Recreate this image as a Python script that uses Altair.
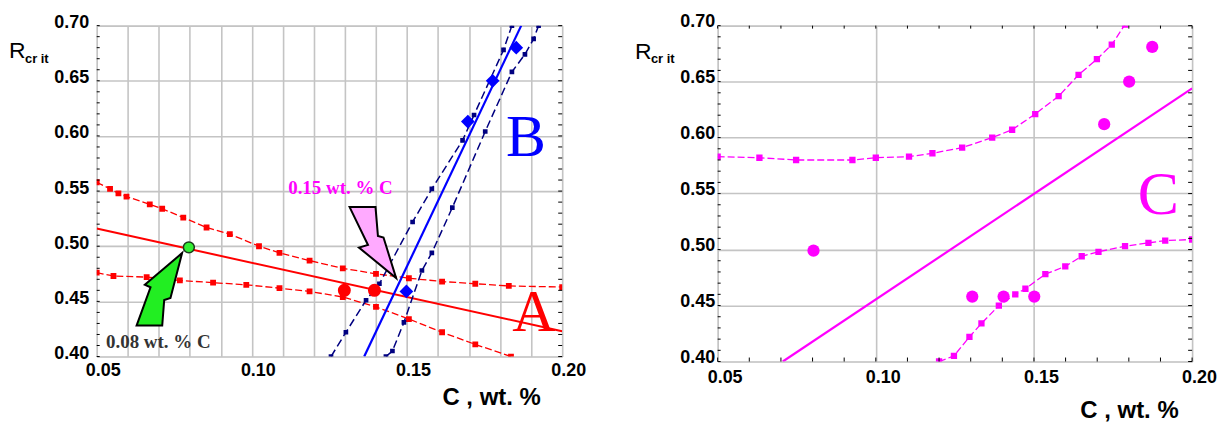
import altair as alt
import pandas as pd

X_DOMAIN = [0.05, 0.20]
Y_DOMAIN = [0.40, 0.70]

# ---------------- left panel data ----------------
red_fit_x = [0.050, 0.200]
red_fit_y = [0.516, 0.423]

red_up_x = [0.050, 0.0543, 0.057, 0.0596, 0.0671, 0.0711, 0.0779, 0.0854, 0.0929, 0.1023,
            0.1089, 0.1186, 0.1293, 0.140, 0.1506, 0.1613, 0.172, 0.1828, 0.200]
red_up_y = [0.558, 0.552, 0.548, 0.545, 0.538, 0.534, 0.526, 0.517, 0.511, 0.500,
            0.494, 0.487, 0.480, 0.475, 0.471, 0.468, 0.466, 0.464, 0.463]

red_lo_x = [0.050, 0.0554, 0.0661, 0.0768, 0.0875, 0.0982, 0.1089, 0.1186, 0.1293, 0.140,
            0.1506, 0.1613, 0.172, 0.1835]
red_lo_y = [0.476, 0.473, 0.472, 0.469, 0.467, 0.465, 0.462, 0.459, 0.454, 0.445,
            0.434, 0.422, 0.411, 0.400]

blue_fit_x = [0.1362, 0.1868]
blue_fit_y = [0.400, 0.700]

blue_l_x = [0.1255, 0.1303, 0.1368, 0.1411, 0.1518, 0.158, 0.1679, 0.1716, 0.1811, 0.1838]
blue_l_y = [0.400, 0.422, 0.451, 0.466, 0.522, 0.552, 0.596, 0.619, 0.678, 0.700]

blue_r_x = [0.1432, 0.1453, 0.149, 0.1548, 0.158, 0.1646, 0.1752, 0.1838, 0.188, 0.1908, 0.1924]
blue_r_y = [0.400, 0.405, 0.431, 0.478, 0.494, 0.535, 0.604, 0.658, 0.674, 0.688, 0.700]

red_pts_x = [0.1298, 0.1395]
red_pts_y = [0.460, 0.460]
blue_pts_x = [0.1498, 0.1696, 0.1776, 0.1852]
blue_pts_y = [0.459, 0.613, 0.650, 0.680]
green_pt_x = [0.0797]
green_pt_y = [0.499]

# ---------------- right panel data ----------------
mag_fit_x = [0.0706, 0.200]
mag_fit_y = [0.400, 0.644]

mag_up_x = [0.050, 0.0632, 0.0748, 0.0926, 0.100, 0.1105, 0.1179, 0.1273, 0.1368, 0.1431,
            0.1504, 0.1578, 0.1641, 0.1699, 0.1746, 0.1788]
mag_up_y = [0.583, 0.582, 0.580, 0.580, 0.582, 0.583, 0.586, 0.591, 0.600, 0.607,
            0.621, 0.637, 0.656, 0.670, 0.683, 0.701]

mag_lo_x = [0.1200, 0.1247, 0.1296, 0.1334, 0.1389, 0.1441, 0.1473, 0.1536, 0.1599, 0.1651,
            0.1704, 0.1788, 0.1862, 0.1915, 0.200]
mag_lo_y = [0.400, 0.405, 0.422, 0.434, 0.450, 0.460, 0.465, 0.478, 0.485, 0.494,
            0.498, 0.503, 0.506, 0.508, 0.509]

mag_pts_x = [0.0803, 0.1305, 0.1404, 0.1501, 0.1722, 0.1801, 0.1874]
mag_pts_y = [0.499, 0.458, 0.458, 0.458, 0.612, 0.650, 0.681]

# ---------------- ticks / grid values ----------------
x_minor = [0.05, 0.06, 0.07, 0.08, 0.09, 0.10, 0.11, 0.12, 0.13, 0.14, 0.15, 0.16, 0.17, 0.18, 0.19, 0.20]
x_major = [0.05, 0.10, 0.15, 0.20]
y_major = [0.40, 0.45, 0.50, 0.55, 0.60, 0.65, 0.70]
y_minor = [0.40, 0.41, 0.42, 0.43, 0.44, 0.45, 0.46, 0.47, 0.48, 0.49, 0.50, 0.51, 0.52, 0.53,
           0.54, 0.55, 0.56, 0.57, 0.58, 0.59, 0.60, 0.61, 0.62, 0.63, 0.64, 0.65, 0.66, 0.67,
           0.68, 0.69, 0.70]

SANS = "Liberation Sans"
SERIF = "Liberation Serif"
GRID = "#c4c4c4"

LW, LH = 467, 332
RW, RH = 476, 337


def df(xs, ys):
    return pd.DataFrame({"x": xs, "y": ys})


def enc_xy(axis_x, axis_y):
    sx = alt.Scale(domain=X_DOMAIN, nice=False, zero=False)
    sy = alt.Scale(domain=Y_DOMAIN, nice=False, zero=False)
    return (alt.X("x:Q", scale=sx, axis=axis_x), alt.Y("y:Q", scale=sy, axis=axis_y))


label_expr = "round(datum.value*100) % 5 == 0 ? format(datum.value, '.2f') : ''"

axL_x = alt.Axis(values=x_minor, grid=True, gridColor=GRID, gridWidth=1.6, ticks=False, domain=False,
                 labelExpr=label_expr, labelFont=SANS, labelFontSize=18, labelFontWeight="bold",
                 labelColor="black", labelFlush=False, labelOverlap=False, labelPadding=5, labelOffset=6,
                 title="C , wt. %", titleFont=SANS, titleFontSize=24, titleFontWeight="bold",
                 titleColor="black", titleX=445, titleY=48, titleAlign="right",
                 titleBaseline="alphabetic", titleAnchor="end")
axL_y = alt.Axis(values=y_major, grid=True, gridColor=GRID, gridWidth=1.6, ticks=False, domain=False,
                 format=".2f", labelFont=SANS, labelFontSize=18, labelFontWeight="bold",
                 labelColor="black", labelFlush=False, labelOverlap=False, labelPadding=8, labelOffset=-3,
                 title=None)

axR_x = alt.Axis(values=x_major, grid=True, gridColor=GRID, gridWidth=1.6, ticks=False,
                 domain=False, format=".2f", labelFont=SANS, labelFontSize=18, labelFontWeight="bold",
                 labelColor="black", labelFlush=False, labelOverlap=False, labelPadding=7, labelOffset=7,
                 title="C , wt. %", titleFont=SANS, titleFontSize=24, titleFontWeight="bold",
                 titleColor="black", titleX=462, titleY=56, titleAlign="right",
                 titleBaseline="alphabetic", titleAnchor="end")
axR_y = alt.Axis(values=y_major, grid=True, gridColor=GRID, gridWidth=1.6, ticks=False, domain=False,
                 format=".2f", labelFont=SANS, labelFontSize=18, labelFontWeight="bold",
                 labelColor="black", labelFlush=False, labelOverlap=False, labelPadding=3, labelOffset=-4,
                 title=None)

# arrow outlines (symbol paths in unit space)
GREEN_ARROW = "M 0.626 -1 L -0.402 -0.129 L -0.245 -0.058 L -0.629 1 L 0.078 1 L 0.133 0.294 L 0.306 0.239 Z"
PINK_ARROW = "M -0.655 -1 L 0.074 -1 L 0.142 -0.187 L 0.299 -0.142 L 0.655 1 L -0.391 0.140 L -0.138 0.067 Z"


def build_left():
    X, Y = enc_xy(axL_x, axL_y)
    layers = []
    # bands (red)
    for xs, ys in [(red_up_x, red_up_y), (red_lo_x, red_lo_y)]:
        d = df(xs, ys)
        layers.append(alt.Chart(d).mark_line(color="#ff0000", strokeWidth=1.3, strokeDash=[7, 3], clip=True)
                      .encode(x=X, y=Y))
        layers.append(alt.Chart(d).mark_square(color="#ff0000", size=34, opacity=1, clip=True)
                      .encode(x=X, y=Y))
    layers.append(alt.Chart(df(red_fit_x, red_fit_y)).mark_line(color="#ff0000", strokeWidth=2, clip=True)
                  .encode(x=X, y=Y))
    # blue bands
    for xs, ys in [(blue_l_x, blue_l_y), (blue_r_x, blue_r_y)]:
        d = df(xs, ys)
        layers.append(alt.Chart(d).mark_line(color="#000080", strokeWidth=1.5, strokeDash=[8, 4], clip=True)
                      .encode(x=X, y=Y))
        layers.append(alt.Chart(d).mark_square(color="#000080", size=22, opacity=1, clip=True)
                      .encode(x=X, y=Y))
    layers.append(alt.Chart(df(blue_fit_x, blue_fit_y)).mark_line(color="#0000ff", strokeWidth=2.2, clip=True)
                  .encode(x=X, y=Y))
    # data points
    layers.append(alt.Chart(df(red_pts_x, red_pts_y)).mark_point(shape="circle", filled=True, color="#ff0000",
                                                                 size=170, opacity=1).encode(x=X, y=Y))
    layers.append(alt.Chart(df(blue_pts_x, blue_pts_y)).mark_point(shape="diamond", filled=True, color="#0000ff",
                                                                   size=190, opacity=1).encode(x=X, y=Y))
    layers.append(alt.Chart(df(green_pt_x, green_pt_y)).mark_point(shape="circle", filled=True, fill="#33ee33",
                                                                   stroke="#1a3a1a", strokeWidth=1.5,
                                                                   size=120, opacity=1).encode(x=X, y=Y))
    # arrows
    layers.append(alt.Chart(df([0.0702], [0.4609])).mark_point(shape=GREEN_ARROW, filled=True, fill="#22ee22",
                                                               stroke="black", strokeWidth=2, size=5285,
                                                               opacity=1).encode(x=X, y=Y))
    layers.append(alt.Chart(df([0.1390], [0.5033])).mark_point(shape=PINK_ARROW, filled=True, fill="#ffaaff",
                                                               stroke="black", strokeWidth=2, size=5084,
                                                               opacity=1).encode(x=X, y=Y))
    # annotations
    ann = pd.DataFrame({"x": [0.1883, 0.1909], "y": [0.5814, 0.4232], "t": ["B", "A"],
                        "c": ["#0000ff", "#ff0000"]})
    layers.append(alt.Chart(ann).mark_text(font=SERIF, fontSize=60, align="center", baseline="alphabetic")
                  .encode(x=X, y=Y, text="t:N", color=alt.Color("c:N", scale=None)))
    layers.append(alt.Chart(df([0.1117], [0.547]).assign(t="0.15 wt. % C"))
                  .mark_text(font=SERIF, fontSize=19, fontWeight="bold", color="#ff00ff", align="left",
                             baseline="alphabetic").encode(x=X, y=Y, text="t:N"))
    layers.append(alt.Chart(df([0.053], [0.4079]).assign(t="0.08 wt. % C"))
                  .mark_text(font=SERIF, fontSize=19, fontWeight="bold", color="#333333", align="left",
                             baseline="alphabetic").encode(x=X, y=Y, text="t:N"))
    # inward minor ticks on left and right edges
    dy = pd.DataFrame({"y": y_minor})
    layers.append(alt.Chart(dy).mark_rule(color="black", strokeWidth=1)
                  .encode(y=Y, x=alt.value(0), x2=alt.value(3)))
    layers.append(alt.Chart(dy).mark_rule(color="black", strokeWidth=1)
                  .encode(y=Y, x=alt.value(LW - 4), x2=alt.value(LW)))
    # R_crit label
    layers.append(alt.Chart(pd.DataFrame({"t": ["R"]})).mark_text(font=SANS, fontSize=23, align="left",
                                                                  baseline="alphabetic", color="black")
                  .encode(x=alt.value(-88), y=alt.value(32), text="t:N"))
    layers.append(alt.Chart(pd.DataFrame({"t": ["cr it"]})).mark_text(font=SANS, fontSize=13, fontWeight="bold",
                                                                      align="left", baseline="alphabetic",
                                                                      color="black")
                  .encode(x=alt.value(-72), y=alt.value(37), text="t:N"))
    return alt.layer(*layers).properties(width=LW, height=LH)


def build_right():
    X, Y = enc_xy(axR_x, axR_y)
    layers = []
    for xs, ys in [(mag_up_x, mag_up_y), (mag_lo_x, mag_lo_y)]:
        d = df(xs, ys)
        layers.append(alt.Chart(d).mark_line(color="#ff00ff", strokeWidth=1.3, strokeDash=[7, 3], clip=True)
                      .encode(x=X, y=Y))
        layers.append(alt.Chart(d).mark_square(color="#ff00ff", size=40, opacity=1, clip=True)
                      .encode(x=X, y=Y))
    layers.append(alt.Chart(df(mag_fit_x, mag_fit_y)).mark_line(color="#ff00ff", strokeWidth=2.2, clip=True)
                  .encode(x=X, y=Y))
    layers.append(alt.Chart(df(mag_pts_x, mag_pts_y)).mark_point(shape="circle", filled=True, color="#ff00ff",
                                                                 size=150, opacity=1).encode(x=X, y=Y))
    layers.append(alt.Chart(df([0.1893], [0.5314]).assign(t="C"))
                  .mark_text(font=SERIF, fontSize=62, color="#ff00ff", align="center", baseline="alphabetic")
                  .encode(x=X, y=Y, text="t:N"))
    dy = pd.DataFrame({"y": y_minor})
    dx = pd.DataFrame({"x": x_minor})
    layers.append(alt.Chart(dy).mark_rule(color="black", strokeWidth=1)
                  .encode(y=Y, x=alt.value(0), x2=alt.value(3)))
    layers.append(alt.Chart(dy).mark_rule(color="black", strokeWidth=1)
                  .encode(y=Y, x=alt.value(RW - 4), x2=alt.value(RW)))
    layers.append(alt.Chart(dx).mark_rule(color="black", strokeWidth=1)
                  .encode(x=X, y=alt.value(RH - 4), y2=alt.value(RH)))
    layers.append(alt.Chart(dx).mark_rule(color="black", strokeWidth=1)
                  .encode(x=X, y=alt.value(0), y2=alt.value(3)))
    layers.append(alt.Chart(pd.DataFrame({"t": ["R"]})).mark_text(font=SANS, fontSize=23, align="left",
                                                                  baseline="alphabetic", color="black")
                  .encode(x=alt.value(-83), y=alt.value(33), text="t:N"))
    layers.append(alt.Chart(pd.DataFrame({"t": ["cr it"]})).mark_text(font=SANS, fontSize=13, fontWeight="bold",
                                                                      align="left", baseline="alphabetic",
                                                                      color="black")
                  .encode(x=alt.value(-67), y=alt.value(37), text="t:N"))
    return alt.layer(*layers).properties(width=RW, height=RH)


chart = alt.hconcat(build_left(), build_right(), spacing=47).properties(
    padding={"left": 0, "top": 3, "right": 5, "bottom": 0}
).configure_view(stroke="black", strokeWidth=1.3).configure(background="white")

chart.save("out.html", embed_options={"renderer": "svg", "actions": False})
